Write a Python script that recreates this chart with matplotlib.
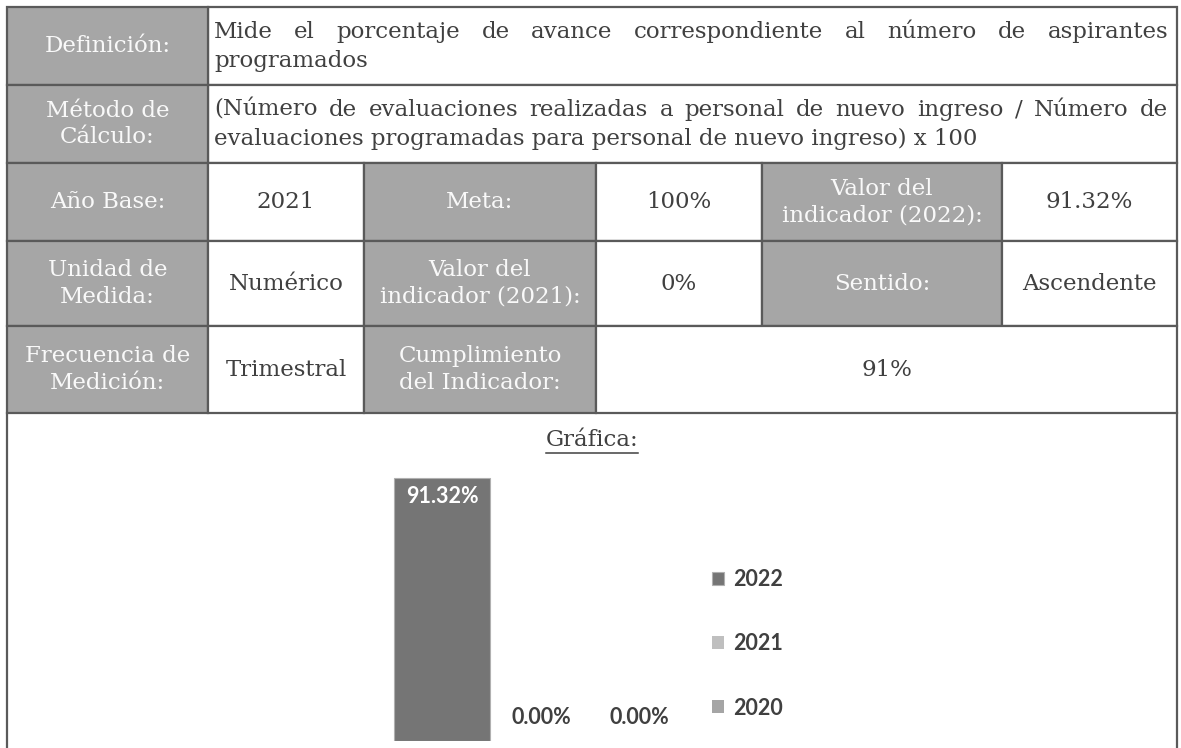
import matplotlib
matplotlib.use('Agg')
import matplotlib.pyplot as plt
from matplotlib.patches import Rectangle

# ── datos ──
years = ['2022', '2021', '2020']
values = [91.32, 0.0, 0.0]
bar_colors = ['#757575', '#bfbfbf', '#a5a5a5']

def_lines = ['Mide el porcentaje de avance correspondiente al número de aspirantes',
             'programados']
met_lines = ['(Número de evaluaciones realizadas a personal de nuevo ingreso / Número de',
             'evaluaciones programadas para personal de nuevo ingreso) x 100']

# (fila, col_ini, col_fin, texto, encabezado)
cells = [
    (0, 0, 1, 'Definición:', True),
    (1, 0, 1, 'Método de\nCálculo:', True),
    (2, 0, 1, 'Año Base:', True),
    (2, 1, 2, '2021', False),
    (2, 2, 3, 'Meta:', True),
    (2, 3, 4, '100%', False),
    (2, 4, 5, 'Valor del\nindicador (2022):', True),
    (2, 5, 6, '91.32%', False),
    (3, 0, 1, 'Unidad de\nMedida:', True),
    (3, 1, 2, 'Numérico', False),
    (3, 2, 3, 'Valor del\nindicador (2021):', True),
    (3, 3, 4, '0%', False),
    (3, 4, 5, 'Sentido:', True),
    (3, 5, 6, 'Ascendente', False),
    (4, 0, 1, 'Frecuencia de\nMedición:', True),
    (4, 1, 2, 'Trimestral', False),
    (4, 2, 3, 'Cumplimiento\ndel Indicador:', True),
    (4, 3, 6, '91%', False),
]

# ── estilo / geometría (px) ──
W, H = 1181, 748
COLS = [7, 208, 364, 596, 762, 1002, 1177]
ROWS = [7, 85, 163, 241, 326, 413]
HEAD_BG = '#a6a6a6'
HEAD_FG = '#f9f9f9'
BODY_FG = '#404040'
LINE = '#5a5a5a'
SERIF = 'DejaVu Serif'
FS = 16.5
CHART_FONT = 'Lato'
CFS = 15.5

fig = plt.figure(figsize=(W / 100, H / 100), dpi=100)
ax = fig.add_axes([0, 0, 1, 1])
ax.set_xlim(0, W)
ax.set_ylim(H, 0)
ax.axis('off')

# filas con texto largo (fila 0 y 1)
for r in (0, 1):
    ax.add_patch(Rectangle((COLS[1], ROWS[r]), COLS[6] - COLS[1], ROWS[r + 1] - ROWS[r],
                           facecolor='white', edgecolor=LINE, lw=1.6, zorder=2))

for r, c0, c1, txt, head in cells:
    x0, x1 = COLS[c0], COLS[c1]
    y0, y1 = ROWS[r], ROWS[r + 1]
    ax.add_patch(Rectangle((x0, y0), x1 - x0, y1 - y0,
                           facecolor=HEAD_BG if head else 'white',
                           edgecolor=LINE, lw=1.6, zorder=2))
    ax.text((x0 + x1) / 2, (y0 + y1) / 2, txt, ha='center', va='center',
            ma='center', linespacing=1.25, fontsize=FS, family=SERIF,
            color=HEAD_FG if head else BODY_FG, zorder=3)

# zona de la gráfica: bordes laterales
ax.plot([COLS[0], COLS[0]], [ROWS[5], H + 2], color=LINE, lw=1.6, zorder=2)
ax.plot([COLS[6], COLS[6]], [ROWS[5], H + 2], color=LINE, lw=1.6, zorder=2)

renderer = fig.canvas.get_renderer()


def justified(lines, r):
    xa, xb = COLS[1] + 6, COLS[6] - 9
    yc = (ROWS[r] + ROWS[r + 1]) / 2
    ys = [yc - 14.5, yc + 14.5]
    words = lines[0].split(' ')
    ts = [ax.text(0, ys[0], w, ha='left', va='center', fontsize=FS,
                  family=SERIF, color=BODY_FG, zorder=3) for w in words]
    ws = [t.get_window_extent(renderer).width for t in ts]
    gap = (xb - xa - sum(ws)) / (len(ts) - 1)
    x = xa
    for t, w in zip(ts, ws):
        t.set_x(x)
        x += w + gap
    ax.text(xa, ys[1], lines[1], ha='left', va='center', fontsize=FS,
            family=SERIF, color=BODY_FG, zorder=3)


justified(def_lines, 0)
justified(met_lines, 1)

# título "Gráfica:" subrayado
tg = ax.text((COLS[0] + COLS[6]) / 2, 440, 'Gráfica:', ha='center', va='center',
             fontsize=FS, family=SERIF, color=BODY_FG)
bb = tg.get_window_extent(renderer)
ax.plot([bb.x0, bb.x1], [453, 453], color=BODY_FG, lw=1.1)

# ── gráfica de barras ──
ax2 = fig.add_axes([393 / W, (H - 741) / H, 296 / W, 288 / H])
ax2.set_xlim(-0.5, 2.5)
ax2.set_ylim(0, 100)
ax2.axis('off')
for i, (yr, v, c) in enumerate(zip(years, values, bar_colors)):
    ax2.bar(i, v, width=0.97, color=c, edgecolor='#b0b0b0',
            lw=0.8 if v > 0 else 0, label=yr)
    if v > 0:
        ax2.annotate(f'{v:.2f}%', (i, v), xytext=(0, -6), textcoords='offset points',
                     ha='center', va='top', color='white', fontsize=CFS,
                     family=CHART_FONT, weight='bold')
    else:
        ax2.annotate(f'{v:.2f}%', (i, v), xytext=(0, 17), textcoords='offset points',
                     ha='center', va='center', color=BODY_FG, fontsize=CFS,
                     family=CHART_FONT, weight='bold')

ax2.legend(loc='center left', bbox_to_anchor=(712 / W, (H - 644) / H),
           bbox_transform=fig.transFigure, frameon=False,
           prop={'family': CHART_FONT, 'weight': 'bold', 'size': CFS},
           labelcolor=BODY_FG, handlelength=0.55, handleheight=0.55,
           handletextpad=0.45, labelspacing=2.0, borderpad=0, borderaxespad=0)

fig.savefig('out.png', dpi=100, facecolor='white')
